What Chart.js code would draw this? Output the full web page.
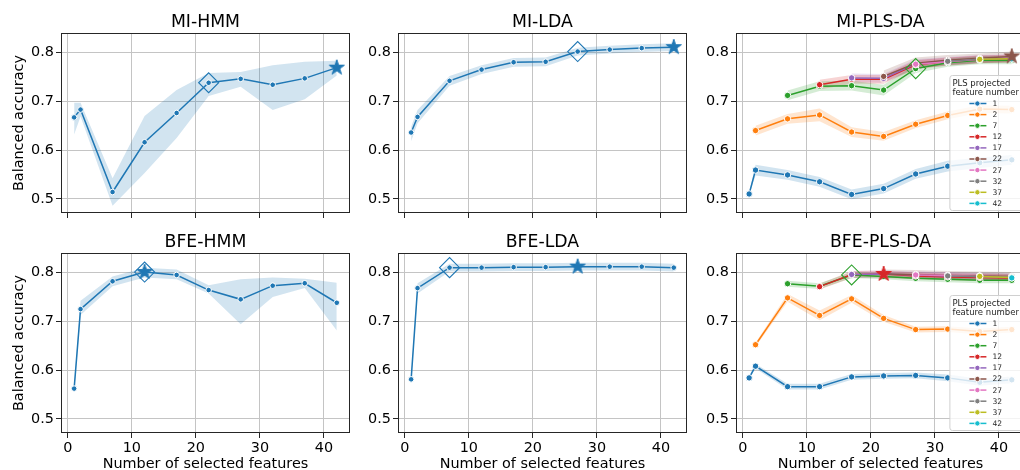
<!DOCTYPE html>
<html>
<head>
<meta charset="utf-8">
<script src="https://cdn.jsdelivr.net/npm/chart.js@4.4.0/dist/chart.umd.min.js"></script>
<style>
  html, body { margin: 0; padding: 0; width: 1020px; height: 470px; overflow: hidden; background: #fff; }
  canvas { position: absolute; }
</style>
</head>
<body>
<script>
// x positions shared by every panel
const featureCounts = [1, 2, 7, 12, 17, 22, 27, 32, 37, 42];
const plsComponents = [1, 2, 7, 12, 17, 22, 27, 32, 37, 42];
const xTicks = [0, 10, 20, 30, 40];
const yTicks = [0.5, 0.6, 0.7, 0.8];

// MI feature selection
const miHmmMean = [0.667, 0.683, 0.514, 0.616, 0.676, 0.738, 0.746, 0.734, 0.747, 0.769];
const miHmmLow  = [0.632, 0.669, 0.486, 0.553, 0.625, 0.711, 0.730, 0.682, 0.704, 0.753];
const miHmmHigh = [0.697, 0.697, 0.542, 0.670, 0.723, 0.758, 0.760, 0.774, 0.781, 0.783];
const miHmmSelected = 22;
const miHmmBest = 42;

const miLdaMean = [0.636, 0.668, 0.742, 0.765, 0.780, 0.781, 0.802, 0.806, 0.809, 0.811];
const miLdaLow  = [0.618, 0.655, 0.732, 0.756, 0.771, 0.772, 0.794, 0.798, 0.801, 0.803];
const miLdaHigh = [0.648, 0.682, 0.752, 0.774, 0.789, 0.790, 0.810, 0.814, 0.817, 0.819];
const miLdaSelected = 27;
const miLdaBest = 42;

// one row per PLS component count, null where there are fewer features than components
const miPlsMean = [
  [0.510, 0.559, 0.549, 0.535, 0.509, 0.521, 0.551, 0.567, 0.574, 0.580],
  [null, 0.640, 0.664, 0.672, 0.637, 0.628, 0.653, 0.671, 0.684, 0.683],
  [null, null, 0.712, 0.731, 0.732, 0.723, 0.767, 0.779, 0.784, 0.784],
  [null, null, null, 0.734, 0.745, 0.745, 0.775, 0.782, 0.786, 0.787],
  [null, null, null, null, 0.748, 0.747, 0.777, 0.783, 0.787, 0.788],
  [null, null, null, null, null, 0.751, 0.778, 0.784, 0.788, 0.792],
  [null, null, null, null, null, null, 0.776, 0.781, 0.786, 0.788],
  [null, null, null, null, null, null, null, 0.782, 0.786, 0.787],
  [null, null, null, null, null, null, null, null, 0.786, 0.787],
  [null, null, null, null, null, null, null, null, null, 0.787]
];
const miPlsHalf = [
  [0.002, 0.011, 0.010, 0.010, 0.010, 0.010, 0.010, 0.011, 0.011, 0.010],
  [null, 0.010, 0.010, 0.013, 0.010, 0.009, 0.008, 0.008, 0.008, 0.008],
  [null, null, 0.010, 0.010, 0.010, 0.011, 0.009, 0.008, 0.008, 0.008],
  [null, null, null, 0.010, 0.009, 0.009, 0.009, 0.008, 0.008, 0.008],
  [null, null, null, null, 0.009, 0.009, 0.009, 0.008, 0.008, 0.008],
  [null, null, null, null, null, 0.012, 0.012, 0.011, 0.010, 0.010],
  [null, null, null, null, null, null, 0.008, 0.008, 0.008, 0.008],
  [null, null, null, null, null, null, null, 0.007, 0.007, 0.007],
  [null, null, null, null, null, null, null, null, 0.007, 0.007],
  [null, null, null, null, null, null, null, null, null, 0.007]
];
const miPlsSelected = [7, 27];   // [components, features]
const miPlsBest = [22, 42];

// BFE feature selection
const bfeHmmMean = [0.562, 0.725, 0.782, 0.801, 0.795, 0.764, 0.745, 0.773, 0.778, 0.738];
const bfeHmmLow  = [0.555, 0.713, 0.772, 0.790, 0.786, 0.757, 0.694, 0.750, 0.768, 0.681];
const bfeHmmHigh = [0.568, 0.742, 0.792, 0.810, 0.806, 0.774, 0.786, 0.790, 0.787, 0.779];
const bfeHmmSelected = 12;
const bfeHmmBest = 12;

const bfeLdaMean = [0.581, 0.768, 0.810, 0.810, 0.811, 0.811, 0.812, 0.812, 0.812, 0.810];
const bfeLdaLow  = [0.577, 0.757, 0.802, 0.802, 0.803, 0.803, 0.804, 0.804, 0.804, 0.802];
const bfeLdaHigh = [0.585, 0.778, 0.818, 0.818, 0.819, 0.819, 0.820, 0.820, 0.820, 0.818];
const bfeLdaSelected = 7;
const bfeLdaBest = 27;

const bfePlsMean = [
  [0.584, 0.608, 0.566, 0.566, 0.586, 0.588, 0.589, 0.584, 0.575, 0.580],
  [null, 0.652, 0.748, 0.712, 0.746, 0.706, 0.683, 0.684, 0.679, 0.683],
  [null, null, 0.777, 0.772, 0.795, 0.792, 0.788, 0.786, 0.784, 0.784],
  [null, null, null, 0.771, 0.796, 0.797, 0.793, 0.791, 0.790, 0.789],
  [null, null, null, null, 0.796, 0.797, 0.795, 0.793, 0.792, 0.791],
  [null, null, null, null, null, 0.797, 0.796, 0.794, 0.793, 0.792],
  [null, null, null, null, null, null, 0.795, 0.794, 0.792, 0.791],
  [null, null, null, null, null, null, null, 0.793, 0.792, 0.791],
  [null, null, null, null, null, null, null, null, 0.792, 0.790],
  [null, null, null, null, null, null, null, null, null, 0.789]
];
const bfePlsHalf = [
  [0.002, 0.005, 0.006, 0.006, 0.006, 0.006, 0.006, 0.007, 0.007, 0.007],
  [null, 0.004, 0.008, 0.010, 0.008, 0.007, 0.006, 0.006, 0.006, 0.006],
  [null, null, 0.006, 0.006, 0.006, 0.006, 0.006, 0.006, 0.006, 0.006],
  [null, null, null, 0.006, 0.007, 0.007, 0.007, 0.007, 0.007, 0.007],
  [null, null, null, null, 0.007, 0.007, 0.007, 0.007, 0.007, 0.007],
  [null, null, null, null, null, 0.009, 0.009, 0.009, 0.009, 0.009],
  [null, null, null, null, null, null, 0.007, 0.007, 0.007, 0.007],
  [null, null, null, null, null, null, null, 0.007, 0.007, 0.007],
  [null, null, null, null, null, null, null, null, 0.007, 0.007],
  [null, null, null, null, null, null, null, null, null, 0.007]
];
const bfePlsSelected = [7, 17];
const bfePlsBest = [12, 22];

// layout of the 2x3 grid (plot areas in page pixels)
const PLOT_W = 292, PLOT_H = 180;
const PAD_L = 60, PAD_T = 33, PAD_R = 8, PAD_B = 45;
const colLefts = [61, 398, 736];
const rowTops = [33, 253];
const tab10 = ['#1f77b4', '#ff7f0e', '#2ca02c', '#d62728', '#9467bd', '#8c564b', '#e377c2', '#7f7f7f', '#bcbd22', '#17becf'];
const FONT = '"DejaVu Sans", sans-serif';

Chart.defaults.font.family = FONT;
Chart.defaults.color = '#000';

function rgba(hex, a) {
    const n = parseInt(hex.slice(1), 16);
    return 'rgba(' + (n >> 16) + ',' + ((n >> 8) & 255) + ',' + (n & 255) + ',' + a + ')';
}

// filled five-pointed star used as the "best" marker
function starImage(color, r) {
    const c = document.createElement('canvas');
    const size = Math.ceil(2 * r + 4);
    c.width = c.height = size;
    const g = c.getContext('2d');
    g.translate(size / 2, size / 2);
    g.beginPath();
    for (let i = 0; i < 10; i++) {
        const rad = i % 2 ? r * 0.382 : r;
        const a = -Math.PI / 2 + i * Math.PI / 5;
        g.lineTo(Math.cos(a) * rad, Math.sin(a) * rad);
    }
    g.closePath();
    g.fillStyle = color;
    g.fill();
    g.strokeStyle = color;
    g.lineWidth = 1;
    g.stroke();
    return c;
}

function toPoints(values, delta, sign) {
    const pts = [];
    featureCounts.forEach((x, i) => {
        if (values[i] === null) return;
        pts.push({ x: x, y: delta ? values[i] + sign * delta[i] : values[i] });
    });
    return pts;
}

function valueAt(values, x) {
    return values[featureCounts.indexOf(x)];
}

function bandSets(low, high, color) {
    return [
        { data: low, borderWidth: 0, pointRadius: 0, fill: false, order: 500 },
        { data: high, borderWidth: 0, pointRadius: 0, fill: '-1', backgroundColor: rgba(color, 0.2), order: 499 }
    ];
}

function lineSet(data, color, radius, order) {
    return {
        data: data, borderColor: color, borderWidth: 1.5,
        pointRadius: radius, pointBackgroundColor: color,
        pointBorderColor: '#fff', pointBorderWidth: 1, order: order
    };
}

function diamondSet(x, y, color) {
    return {
        data: [{ x: x, y: y }], showLine: false, pointStyle: 'rectRot', pointRadius: 10,
        pointBackgroundColor: 'rgba(0,0,0,0)', pointBorderColor: color, pointBorderWidth: 1.1, order: 1
    };
}

function starSet(x, y, color) {
    return {
        data: [{ x: x, y: y }], showLine: false, pointStyle: starImage(color, 8), pointRadius: 8, order: 0
    };
}

function singleDatasets(mean, low, high, selected, best) {
    const color = tab10[0];
    return [
        ...bandSets(toPoints(low), toPoints(high), color),
        lineSet(toPoints(mean), color, 2.8, 10),
        diamondSet(selected, valueAt(mean, selected), color),
        starSet(best, valueAt(mean, best), color)
    ];
}

function plsDatasets(means, halves, selected, best) {
    let sets = [];
    means.forEach((mean, k) => {
        sets = sets.concat(bandSets(toPoints(mean, halves[k], -1), toPoints(mean, halves[k], 1), tab10[k]));
    });
    means.forEach((mean, k) => {
        const ds = lineSet(toPoints(mean), tab10[k], 3.2, 100 - k);
        ds.label = String(plsComponents[k]);
        sets.push(ds);
    });
    const si = plsComponents.indexOf(selected[0]);
    const bi = plsComponents.indexOf(best[0]);
    sets.push(diamondSet(selected[1], valueAt(means[si], selected[1]), tab10[si]));
    sets.push(starSet(best[1], valueAt(means[bi], best[1]), tab10[bi]));
    return sets;
}

// axes box on all four sides
const framePlugin = {
    id: 'frame',
    afterDatasetsDraw(chart) {
        const { ctx, chartArea: a } = chart;
        ctx.save();
        ctx.strokeStyle = '#262626';
        ctx.lineWidth = 1;
        ctx.strokeRect(Math.round(a.left) + 0.5, Math.round(a.top) + 0.5,
            Math.round(a.right - a.left) - 1, Math.round(a.bottom - a.top) - 1);
        ctx.restore();
    }
};

// hue legend of the PLS panels, in the lower right corner
const plsLegendPlugin = {
    id: 'plsLegend',
    afterDraw(chart) {
        const { ctx, chartArea: a } = chart;
        const h = 135, w = 74;
        const left = a.right - 75.5, top = a.bottom - 3 - h;
        ctx.save();
        ctx.beginPath();
        ctx.roundRect(left + 0.5, top + 0.5, w, h, 2.5);
        ctx.fillStyle = 'rgba(255,255,255,0.8)';
        ctx.fill();
        ctx.strokeStyle = '#d0d0d0';
        ctx.lineWidth = 1;
        ctx.stroke();
        ctx.fillStyle = '#262626';
        ctx.textAlign = 'left';
        ctx.textBaseline = 'middle';
        ctx.font = '8.5px ' + FONT;
        ctx.fillText('PLS projected', left + 3, top + 8.5);
        ctx.fillText('feature number', left + 3, top + 18);
        ctx.font = '7.6px ' + FONT;
        chart.data.datasets.filter(d => d.label).forEach((d, i) => {
            const y = top + 28.5 + i * 11.1;
            ctx.strokeStyle = d.borderColor;
            ctx.lineWidth = 1.5;
            ctx.beginPath();
            ctx.moveTo(left + 20, y);
            ctx.lineTo(left + 37, y);
            ctx.stroke();
            ctx.beginPath();
            ctx.arc(left + 28, y, 2.7, 0, Math.PI * 2);
            ctx.fillStyle = d.borderColor;
            ctx.fill();
            ctx.strokeStyle = '#fff';
            ctx.lineWidth = 1;
            ctx.stroke();
            ctx.fillStyle = '#262626';
            ctx.fillText(d.label, left + 43, y + 0.5);
        });
        ctx.restore();
    }
};

function makeOptions(title, row, col) {
    const grid = { color: '#c4c4c4', lineWidth: 1, tickLength: 5, tickColor: '#262626', tickWidth: 1 };
    return {
        responsive: false,
        animation: false,
        events: [],
        layout: { padding: { left: 0, right: PAD_R, top: 0, bottom: 0 } },
        plugins: {
            legend: { display: false },
            tooltip: { enabled: false },
            filler: { drawTime: 'beforeDatasetsDraw' },
            title: {
                display: true, text: title, fullSize: false, color: '#000',
                font: { size: 17.3, weight: 'normal', lineHeight: 1.2 },
                padding: { top: 11.7, bottom: 0.54 }
            }
        },
        scales: {
            x: {
                type: 'linear', min: -1.05, max: 44.05,
                afterFit: s => { s.height = PAD_B; },
                afterBuildTicks: s => { s.ticks = xTicks.map(v => ({ value: v })); },
                grid: grid,
                border: { display: false },
                ticks: { display: row === 1, font: { size: 14.4 }, padding: 2, maxRotation: 0, autoSkip: false, callback: v => String(v) },
                title: { display: row === 1, text: 'Number of selected features', font: { size: 14.4 }, padding: { top: 0, bottom: 4.7 } }
            },
            y: {
                type: 'linear', min: 0.471, max: 0.840,
                afterFit: s => { s.width = PAD_L; },
                afterBuildTicks: s => { s.ticks = yTicks.map(v => ({ value: v })); },
                grid: grid,
                border: { display: false },
                ticks: { font: { size: 14.4 }, padding: 2, autoSkip: false, callback: v => v.toFixed(1) },
                title: { display: col === 0, text: 'Balanced accuracy', font: { size: 14.4 }, padding: { top: 9.4, bottom: 0 } }
            }
        }
    };
}

const panels = [
    { title: 'MI-HMM', row: 0, col: 0, datasets: singleDatasets(miHmmMean, miHmmLow, miHmmHigh, miHmmSelected, miHmmBest) },
    { title: 'MI-LDA', row: 0, col: 1, datasets: singleDatasets(miLdaMean, miLdaLow, miLdaHigh, miLdaSelected, miLdaBest) },
    { title: 'MI-PLS-DA', row: 0, col: 2, pls: true, datasets: plsDatasets(miPlsMean, miPlsHalf, miPlsSelected, miPlsBest) },
    { title: 'BFE-HMM', row: 1, col: 0, datasets: singleDatasets(bfeHmmMean, bfeHmmLow, bfeHmmHigh, bfeHmmSelected, bfeHmmBest) },
    { title: 'BFE-LDA', row: 1, col: 1, datasets: singleDatasets(bfeLdaMean, bfeLdaLow, bfeLdaHigh, bfeLdaSelected, bfeLdaBest) },
    { title: 'BFE-PLS-DA', row: 1, col: 2, pls: true, datasets: plsDatasets(bfePlsMean, bfePlsHalf, bfePlsSelected, bfePlsBest) }
];

panels.forEach(p => {
    const canvas = document.createElement('canvas');
    canvas.width = PAD_L + PLOT_W + PAD_R;
    canvas.height = PAD_T + PLOT_H + PAD_B;
    canvas.style.left = (colLefts[p.col] - PAD_L) + 'px';
    canvas.style.top = (rowTops[p.row] - PAD_T) + 'px';
    document.body.appendChild(canvas);
    new Chart(canvas.getContext('2d'), {
        type: 'line',
        data: { datasets: p.datasets },
        options: makeOptions(p.title, p.row, p.col),
        plugins: p.pls ? [framePlugin, plsLegendPlugin] : [framePlugin]
    });
});
</script>
</body>
</html>
